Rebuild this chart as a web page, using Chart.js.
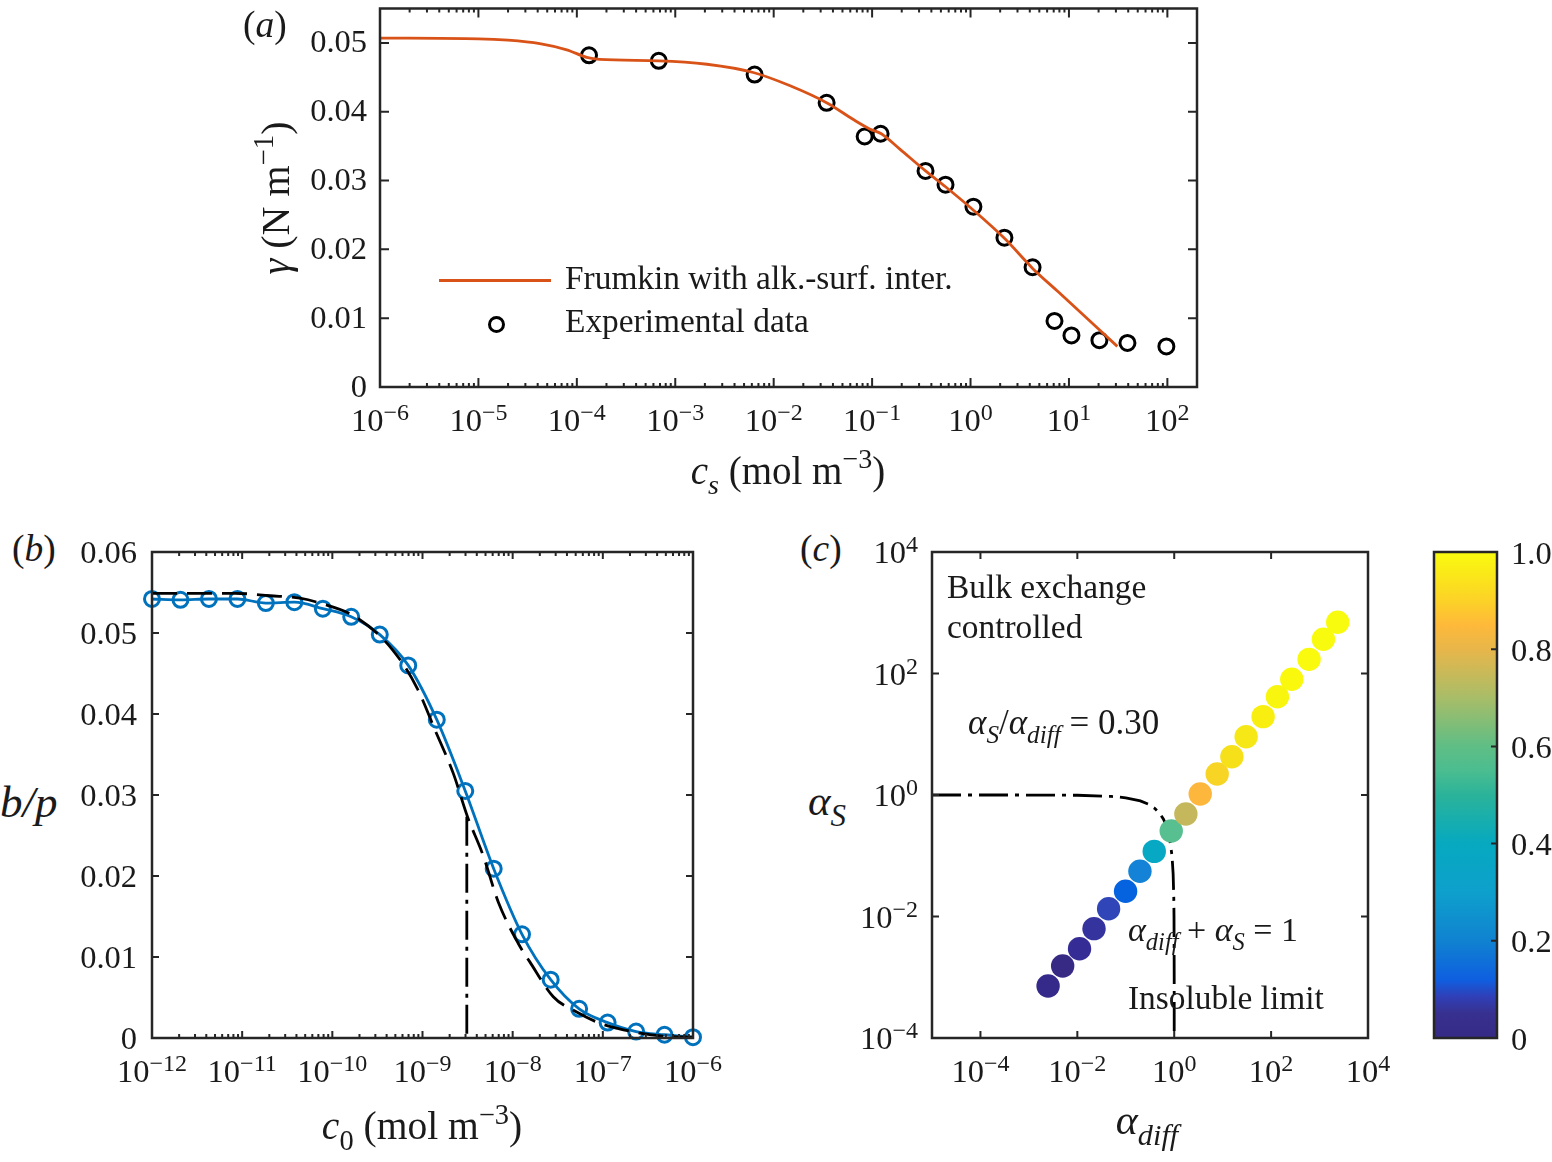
<!DOCTYPE html>
<html>
<head>
<meta charset="utf-8">
<script src="https://cdn.jsdelivr.net/npm/chart.js@4"></script>
<style>
html, body { margin: 0; background: #fff; }
body { position: relative; width: 1552px; height: 1162px; overflow: hidden; font-family: "Liberation Serif", serif; color: #1a1a1a; }
.panel { position: absolute; }
.panel canvas { display: block; }
.t { position: absolute; font-size: 33.4px; line-height: 1; white-space: nowrap; transform: translateY(-50%); }
.c { transform: translate(-50%, -50%); }
.t sub, .t sup { font-size: 0.72em; line-height: 0; }
.t sub { font-style: italic; vertical-align: -0.38em; }
.t sup { vertical-align: 0.55em; }
.key-line { position: absolute; left: 439px; top: 279px; width: 112px; height: 2.8px; background: #d95319; }
.key-dot { position: absolute; left: 488px; top: 316px; width: 11px; height: 11px; border: 3px solid #000; border-radius: 50%; }
</style>
</head>
<body>
<div class="panel" style="left:280px;top:-2px;width:950px;height:452px"><canvas id="chartA"></canvas></div>
<div class="panel" style="left:60px;top:530px;width:670px;height:570px"><canvas id="chartB"></canvas></div>
<div class="panel" style="left:850px;top:530px;width:550px;height:570px"><canvas id="chartC"></canvas></div>
<div class="panel" style="left:1424px;top:530px;width:128px;height:570px"><canvas id="chartBar"></canvas></div>

<div class="key-line"></div>
<div class="key-dot"></div>
<div class="t" style="left:243px;top:25px;font-size:37.5px">(<i>a</i>)</div>
<div class="t c" style="left:276px;top:198px;font-size:40px;transform:translate(-50%,-50%) rotate(-90deg)"><i>γ</i> (N m<sup>−1</sup>)</div>
<div class="t c" style="left:788px;top:470px;font-size:39px"><i>c<sub>s</sub></i> (mol m<sup>−3</sup>)</div>
<div class="t" style="left:565px;top:278px">Frumkin with alk.-surf. inter.</div>
<div class="t" style="left:565px;top:321px">Experimental data</div>
<div class="t" style="left:12px;top:549px;font-size:37.5px">(<i>b</i>)</div>
<div class="t" style="left:0;top:802px;font-size:45px"><i>b/p</i></div>
<div class="t c" style="left:422px;top:1127px;font-size:39.5px"><i>c</i><sub style="font-style:normal">0</sub> (mol m<sup>−3</sup>)</div>
<div class="t" style="left:800px;top:549px;font-size:37.5px">(<i>c</i>)</div>
<div class="t" style="left:808px;top:800px;font-size:43px"><i>α<sub>S</sub></i></div>
<div class="t c" style="left:1147px;top:1120px;font-size:42px"><i>α<sub>diff</sub></i></div>
<div class="t" style="left:947px;top:587px">Bulk exchange</div>
<div class="t" style="left:947px;top:627px">controlled</div>
<div class="t" style="left:968px;top:722px;font-size:35px"><i>α<sub>S</sub></i>/<i>α<sub>diff</sub></i> = 0.30</div>
<div class="t" style="left:1128px;top:930px;font-size:34px"><i>α<sub>diff</sub></i> + <i>α<sub>S</sub></i> = 1</div>
<div class="t" style="left:1128px;top:998px">Insoluble limit</div>

<script>
// (a) surface tension isotherm
const expX = [1.33e-4, 6.8e-4, 6.4e-3, 0.0345, 0.084, 0.122, 0.349, 0.557, 1.07, 2.21, 4.27, 7.13, 10.6, 20.4, 39.3, 97.7]
const expY = [0.0482, 0.0474, 0.0454, 0.0413, 0.0364, 0.0368, 0.0314, 0.0294, 0.0262, 0.0217, 0.0174, 0.0096, 0.0075, 0.0068, 0.0064, 0.0059]
const frumkinX = [1e-6, 1e-5, 2e-5, 4.2e-5, 7.9e-5, 1.26e-4, 1.7e-4, 6.8e-4, 2.1e-3, 6.2e-3, 0.0145, 0.0356, 0.0638, 0.0944, 0.124, 0.19, 0.349, 0.557, 1.05, 2.21, 4.3, 7.83, 31]
const frumkinY = [0.0507, 0.0506, 0.0504, 0.0499, 0.0490, 0.0479, 0.0476, 0.0474, 0.0469, 0.0457, 0.0438, 0.0412, 0.0389, 0.0375, 0.0368, 0.0346, 0.0314, 0.0291, 0.0258, 0.0216, 0.0172, 0.0138, 0.0059]
const yTicksA = [0, 0.01, 0.02, 0.03, 0.04, 0.05]

// (b) bulk concentration curve
const blueX = [1e-12, 2.07e-12, 4.28e-12, 8.86e-12, 1.83e-11, 3.79e-11, 7.85e-11, 1.62e-10, 3.36e-10, 6.95e-10, 1.44e-9, 2.98e-9, 6.16e-9, 1.27e-8, 2.64e-8, 5.46e-8, 1.13e-7, 2.34e-7, 4.83e-7, 1e-6]
const blueY = [0.0542, 0.0541, 0.0542, 0.0542, 0.0537, 0.0538, 0.0530, 0.0520, 0.0498, 0.0460, 0.0393, 0.0305, 0.0209, 0.0128, 0.0072, 0.0036, 0.0019, 0.0008, 0.0004, 0.0001]
const dashX = [1e-12, 8.3e-12, 2.04e-11, 4.37e-11, 6.76e-11, 1.86e-10, 4.68e-10, 8.71e-10, 1.38e-9, 2.19e-9, 3.16e-9, 4.68e-9, 6.92e-9, 1.15e-8, 1.55e-8, 2.82e-8, 5.13e-8, 9.33e-8, 1.45e-7, 2.57e-7, 5.13e-7, 1e-6]
const dashY = [0.0549, 0.0549, 0.0546, 0.0543, 0.0538, 0.0519, 0.0479, 0.0432, 0.0380, 0.0327, 0.0273, 0.0226, 0.0168, 0.0117, 0.0094, 0.0051, 0.0032, 0.0018, 0.0012, 0.0006, 0.0002, 0.0001]
const cmcX = [3.1e-9, 3.1e-9]
const cmcY = [0.0273, 0]
const yTicksB = [0, 0.01, 0.02, 0.03, 0.04, 0.05, 0.06]

// (c) regime map
const dotX = [2.49e-3, 4.98e-3, 1.11e-2, 2.21e-2, 4.42e-2, 9.91e-2, 0.196, 0.387, 0.867, 1.74, 3.44, 7.71, 15.5, 30.5, 68.4, 135, 267, 608, 1200, 2370]
const dotY = [7.18e-4, 1.53e-3, 2.95e-3, 6.31e-3, 1.34e-2, 2.6e-2, 5.55e-2, 0.118, 0.255, 0.486, 1.04, 2.22, 4.27, 9.12, 19.5, 41.5, 80.4, 171, 366, 697]
const dotColors = ['#352a8a', '#372a85', '#352c96', '#35339e', '#2f45b8', '#0563e0', '#1482d6', '#06a8c4', '#58bf90', '#c5b85c', '#fdb73c', '#f8d425', '#f5e01a', '#f5e816', '#f8ef10', '#f8f50e', '#f9f80d', '#f9fa0d', '#f9fb0e', '#f9fb0e']
const limitX = [1e-5, 1e-3, 0.01, 0.05, 0.1, 0.2, 0.3, 0.4, 0.5, 0.6, 0.7, 0.8, 0.9, 0.95, 0.98, 0.99, 0.999, 0.9999]
const limitY = [1, 0.999, 0.99, 0.95, 0.9, 0.8, 0.7, 0.6, 0.5, 0.4, 0.3, 0.2, 0.1, 0.05, 0.02, 0.01, 0.001, 0.0001]
const decadesC = [1e-4, 1e-2, 1, 1e2, 1e4]

// colorbar
const barStops = [0, 0.05, 0.086, 0.12, 0.2, 0.3, 0.4, 0.5, 0.55, 0.6, 0.7, 0.8, 0.85, 0.9, 1]
const barColors = ['#352a85', '#38308f', '#2f40b8', '#0f5fe0', '#1082d0', '#0ea0cc', '#06a9c0', '#2bb39a', '#4bbd90', '#5fbe85', '#a8bd68', '#e8b64a', '#feb93a', '#fcd227', '#f9fb0e']
const barTicks = [0, 0.2, 0.4, 0.6, 0.8, 1]

const ORANGE = '#d95319'
const BLUE = '#0072bd'
const INK = '#262626'
const TEXT = '#1a1a1a'
const FAMILY = '"Liberation Serif", serif'
const SERIF = { family: FAMILY, size: 32.5 }

// all 1-9 multiples inside the range, decades get a label later
const logTicks = (lo, hi) => {
    const out = []
    for (let d = Math.round(Math.log10(lo)); d <= Math.log10(hi); d++) {
        for (let m = 1; m < 10; m++) {
            const v = Number(m + 'e' + d)
            if (v <= hi) out.push({ value: v, major: m === 1 })
        }
    }
    return out
}

// MATLAB style frame: box all round, ticks pointing inwards on both sides
const boxFrame = {
    id: 'boxFrame',
    afterDatasetsDraw(chart, args, opts) {
        const { ctx, chartArea: a, scales } = chart
        ctx.save()
        ctx.strokeStyle = INK
        ctx.lineCap = 'butt'
        ctx.lineWidth = 2
        ctx.beginPath()
        if (scales.x.options.display !== false) scales.x.ticks.forEach(t => {
            const px = scales.x.getPixelForValue(t.value)
            const len = t.major ? opts.major : opts.minor
            ctx.moveTo(px, a.bottom); ctx.lineTo(px, a.bottom - len)
            ctx.moveTo(px, a.top); ctx.lineTo(px, a.top + len)
        })
        scales.y.ticks.forEach(t => {
            const py = scales.y.getPixelForValue(t.value)
            if (!opts.rightOnly) { ctx.moveTo(a.left, py); ctx.lineTo(a.left + opts.major, py) }
            ctx.moveTo(a.right, py); ctx.lineTo(a.right - opts.major, py)
        })
        ctx.stroke()
        ctx.lineWidth = 2.5
        ctx.strokeRect(a.left, a.top, a.right - a.left, a.bottom - a.top)
        ctx.restore()
    }
}

// 10 with a real raised exponent, canvas ticks cannot mix two font sizes
const drawDecade = (ctx, label, px, baseline, align) => {
    const [base, power] = label.split('^')
    ctx.font = '32.5px ' + FAMILY
    const wb = ctx.measureText(base).width
    ctx.font = '24px ' + FAMILY
    const wp = ctx.measureText(power).width
    const left = align === 'center' ? px - (wb + wp) / 2 : px - wb - wp
    ctx.font = '32.5px ' + FAMILY
    ctx.fillText(base, left, baseline)
    ctx.font = '24px ' + FAMILY
    ctx.fillText(power, left + wb, baseline - 11)
}

const decadeLabels = {
    id: 'decadeLabels',
    afterDraw(chart) {
        const { ctx, chartArea: a, scales } = chart
        ctx.save()
        ctx.fillStyle = TEXT
        ctx.textAlign = 'left'
        ctx.textBaseline = 'alphabetic'
        Object.values(scales).filter(s => s.type === 'logarithmic').forEach(s => {
            s.ticks.filter(t => t.major).forEach(t => {
                if (s.axis === 'x') drawDecade(ctx, t.label, s.getPixelForValue(t.value), a.bottom + 44, 'center')
                else drawDecade(ctx, t.label, a.left - 14, s.getPixelForValue(t.value) + 11, 'right')
            })
        })
        ctx.restore()
    }
}
Chart.register(boxFrame, decadeLabels)

Chart.defaults.font.family = FAMILY
Chart.defaults.font.size = SERIF.size
Chart.defaults.color = TEXT
Chart.defaults.animation = false
Chart.defaults.responsive = true
Chart.defaults.maintainAspectRatio = false
Chart.defaults.plugins.legend.display = false
Chart.defaults.plugins.tooltip.enabled = false

// axes take a fixed band so the plot box lands where the layout padding puts it
const fixBand = (axis, size) => {
    if (axis.isHorizontal()) axis.height = size
    else axis.width = size
    axis.paddingLeft = axis.paddingRight = axis.paddingTop = axis.paddingBottom = 0
}

const logAxis = (min, max, ticks, band) => ({
    type: 'logarithmic',
    min, max,
    border: { display: false },
    grid: { display: false },
    afterBuildTicks: axis => { axis.ticks = ticks },
    afterFit: axis => fixBand(axis, band),
    ticks: {
        display: false, autoSkip: false, maxRotation: 0,
        callback: v => '10^' + String(Math.round(Math.log10(v))).replace('-', '−')
    }
})

const linAxis = (min, max, values, band, padding, labelOffset) => ({
    type: 'linear',
    min, max,
    border: { display: false },
    grid: { display: false },
    afterBuildTicks: axis => { axis.ticks = values.map(value => ({ value })) },
    afterFit: axis => fixBand(axis, band),
    ticks: { padding, labelOffset, font: SERIF, callback: v => v === 1 ? '1.0' : String(v) }
})

const xy = (xs, ys) => xs.map((x, i) => ({ x, y: ys[i] }))

new Chart('chartA', {
    type: 'scatter',
    data: {
        datasets: [{
            label: 'Frumkin with alk.-surf. inter.',
            data: xy(frumkinX, frumkinY),
            showLine: true, pointRadius: 0, borderColor: ORANGE, borderWidth: 2.8,
            cubicInterpolationMode: 'monotone'
        }, {
            label: 'Experimental data',
            data: xy(expX, expY),
            pointRadius: 7.5, pointBorderWidth: 3, pointBorderColor: '#000', pointBackgroundColor: 'transparent'
        }]
    },
    options: {
        layout: { padding: { top: 6, right: 33 } },
        scales: {
            x: logAxis(1e-6, 200, logTicks(1e-6, 100), 63),
            y: linAxis(0, 0.055, yTicksA, 100, 5, 1)
        },
        plugins: { boxFrame: { major: 9, minor: 4 } }
    }
})

new Chart('chartB', {
    type: 'scatter',
    data: {
        datasets: [{
            data: xy(dashX, dashY),
            showLine: true, pointRadius: 0, borderColor: '#000', borderWidth: 2.8, borderDash: [25, 10],
            cubicInterpolationMode: 'monotone', clip: false
        }, {
            data: xy(cmcX, cmcY),
            showLine: true, pointRadius: 0, borderColor: '#000', borderWidth: 2.8, borderDash: [29, 7, 4, 7]
        }, {
            data: xy(blueX, blueY),
            showLine: true, borderColor: BLUE, borderWidth: 2.8,
            cubicInterpolationMode: 'monotone', clip: false,
            pointRadius: 7.5, pointBorderWidth: 3, pointBorderColor: BLUE, pointBackgroundColor: 'transparent'
        }]
    },
    options: {
        layout: { padding: { top: 22, right: 37 } },
        scales: {
            x: logAxis(1e-12, 1e-6, logTicks(1e-12, 1e-6), 62),
            y: linAxis(0, 0.06, yTicksB, 92, 7, 2)
        },
        plugins: { boxFrame: { major: 7, minor: 4 } }
    }
})

new Chart('chartC', {
    type: 'scatter',
    data: {
        datasets: [{
            data: xy(dotX, dotY),
            pointRadius: 11.7, pointBorderWidth: 0, pointBackgroundColor: dotColors
        }, {
            data: xy(limitX, limitY),
            showLine: true, pointRadius: 0, borderColor: '#000', borderWidth: 2.8, borderDash: [29, 7, 4, 7]
        }]
    },
    options: {
        layout: { padding: { top: 22, right: 32 } },
        scales: {
            x: logAxis(1e-5, 1e4, decadesC.map(value => ({ value, major: true })), 62),
            y: logAxis(1e-4, 1e4, decadesC.map(value => ({ value, major: true })), 82)
        },
        plugins: { boxFrame: { major: 7, minor: 4 } }
    }
})

new Chart('chartBar', {
    type: 'bar',
    data: {
        labels: ['value'],
        datasets: [{
            data: [1],
            barPercentage: 1, categoryPercentage: 1,
            backgroundColor: ({ chart }) => {
                const a = chart.chartArea
                if (!a) return barColors[0]
                const grad = chart.ctx.createLinearGradient(0, a.bottom, 0, a.top)
                barStops.forEach((s, i) => grad.addColorStop(s, barColors[i]))
                return grad
            }
        }]
    },
    options: {
        layout: { padding: { top: 22, left: 10, bottom: 62 } },
        scales: {
            x: { display: false },
            y: { ...linAxis(0, 1, barTicks, 55, 6, 3), position: 'right' }
        },
        plugins: { boxFrame: { major: 6, minor: 0, rightOnly: true } }
    }
})
</script>
</body>
</html>
